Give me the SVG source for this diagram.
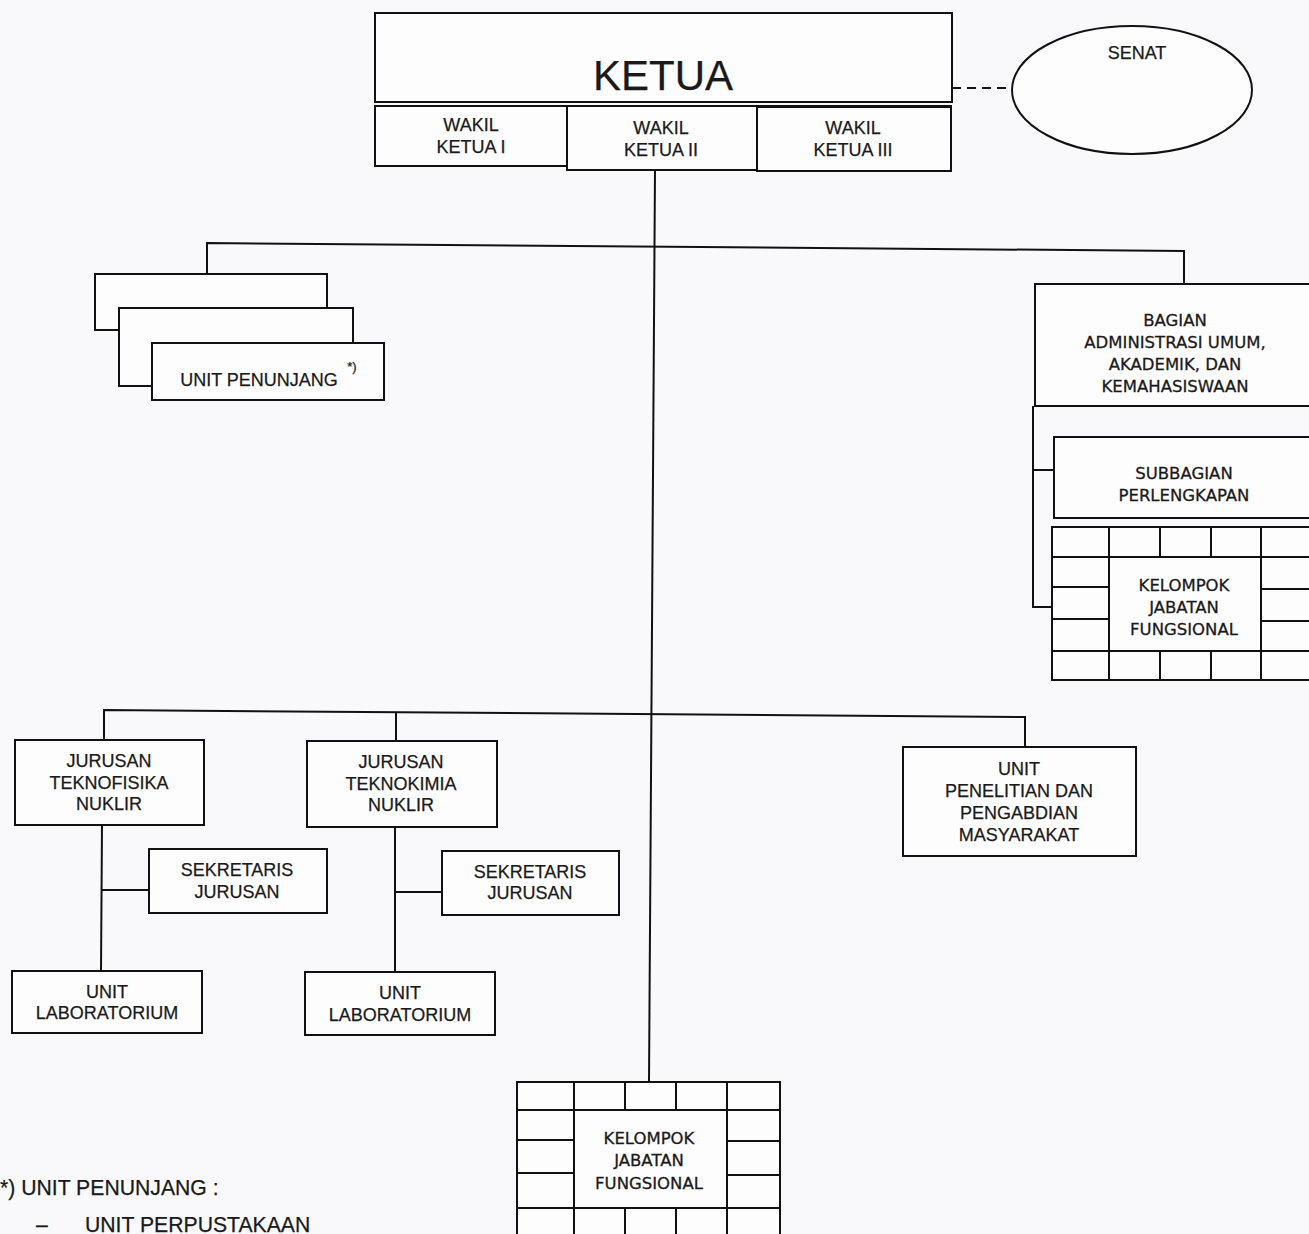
<svg xmlns="http://www.w3.org/2000/svg" width="1309" height="1234" viewBox="0 0 1309 1234">
<style>
.bx{fill:#fdfdfe;stroke:#111;stroke-width:2}
.ln{fill:none;stroke:#111;stroke-width:2}
.t{font-family:"Liberation Sans",Arial,sans-serif;font-size:18px;fill:#1a1a1a;text-anchor:middle;stroke:#1a1a1a;stroke-width:0.25}
.v{font-family:"DejaVu Sans",Verdana,sans-serif;font-size:16.5px;fill:#1a1a1a;text-anchor:middle;stroke:#1a1a1a;stroke-width:0.3}
.lg{font-family:"Liberation Sans",Arial,sans-serif;font-size:21.2px;fill:#1a1a1a;stroke:#1a1a1a;stroke-width:0.25}
</style>
<rect width="1309" height="1234" fill="#f9f9fb"/>

<g id="connectors">
<line class="ln" x1="655" y1="170" x2="649" y2="1082"/>
<polyline class="ln" points="207,274 207,243 1184,251 1184,284"/>
<polyline class="ln" points="104,740 104,710 1025,717 1025,747"/>
<line class="ln" x1="396" y1="712" x2="396" y2="741"/>
<polyline class="ln" points="1033,406 1033,607 1052,607"/>
<line class="ln" x1="1033" y1="470" x2="1054" y2="470"/>
<line class="ln" x1="102" y1="825" x2="101" y2="971"/>
<line class="ln" x1="101" y1="890" x2="149" y2="890"/>
<line class="ln" x1="395" y1="827" x2="395" y2="972"/>
<line class="ln" x1="395" y1="892" x2="442" y2="892"/>
<line class="ln" x1="952" y1="88" x2="1012" y2="88" stroke-dasharray="9,6"/>
</g>

<g id="ketua">
<rect class="bx" x="375" y="13" width="577" height="89"/>
<line class="ln" x1="375" y1="106" x2="952" y2="106"/>
<text x="663" y="90" class="t" style="font-size:42px">KETUA</text>
</g>
<g id="wakil1">
<rect class="bx" x="375" y="106" width="192" height="60"/>
<text class="t" x="471" y="131">WAKIL</text>
<text class="t" x="471" y="153">KETUA I</text>
</g>
<g id="wakil2">
<rect class="bx" x="567" y="106" width="190" height="64"/>
<text class="t" x="661" y="134">WAKIL</text>
<text class="t" x="661" y="156">KETUA II</text>
</g>
<g id="wakil3">
<rect class="bx" x="757" y="107" width="194" height="64"/>
<text class="t" x="853" y="134">WAKIL</text>
<text class="t" x="853" y="156">KETUA III</text>
</g>

<g id="senat">
<ellipse class="bx" cx="1132" cy="90" rx="120" ry="64"/>
<text class="t" x="1137" y="59">SENAT</text>
</g>

<g id="unit-penunjang">
<rect class="bx" x="95" y="274" width="232" height="56"/>
<rect class="bx" x="119" y="308" width="234" height="78"/>
<rect class="bx" x="152" y="343" width="232" height="57"/>
<text class="t" x="259" y="386">UNIT PENUNJANG</text>
<text class="t" x="352" y="371" style="font-size:13px">*)</text>
</g>

<g id="bagian">
<rect class="bx" x="1035" y="284" width="290" height="122"/>
<text class="v" x="1175" y="326">BAGIAN</text>
<text class="v" x="1175" y="348">ADMINISTRASI UMUM,</text>
<text class="v" x="1175" y="370">AKADEMIK, DAN</text>
<text class="v" x="1175" y="392">KEMAHASISWAAN</text>
</g>

<g id="subbagian">
<rect class="bx" x="1054" y="437" width="270" height="81"/>
<text class="v" x="1184" y="479">SUBBAGIAN</text>
<text class="v" x="1184" y="501">PERLENGKAPAN</text>
</g>

<g id="kelompok-kanan">
<rect class="bx" x="1052" y="527" width="270" height="153"/>
<path class="ln" d="M1052 557H1322M1052 651H1322M1052 587H1109M1052 619H1109M1261 589H1322M1261 621H1322M1109 527V680M1261 527V680M1160 527V557M1211 527V557M1160 651V680M1211 651V680"/>
<text class="v" x="1184" y="591">KELOMPOK</text>
<text class="v" x="1184" y="613">JABATAN</text>
<text class="v" x="1184" y="635">FUNGSIONAL</text>
</g>

<g id="jurusan-tf">
<rect class="bx" x="15" y="740" width="189" height="85"/>
<text class="t" x="109" y="767">JURUSAN</text>
<text class="t" x="109" y="789">TEKNOFISIKA</text>
<text class="t" x="109" y="810">NUKLIR</text>
</g>
<g id="sekretaris-tf">
<rect class="bx" x="149" y="849" width="178" height="64"/>
<text class="t" x="237" y="876">SEKRETARIS</text>
<text class="t" x="237" y="898">JURUSAN</text>
</g>
<g id="lab-tf">
<rect class="bx" x="12" y="971" width="190" height="62"/>
<text class="t" x="107" y="998">UNIT</text>
<text class="t" x="107" y="1019">LABORATORIUM</text>
</g>

<g id="jurusan-tk">
<rect class="bx" x="307" y="741" width="190" height="86"/>
<text class="t" x="401" y="768">JURUSAN</text>
<text class="t" x="401" y="790">TEKNOKIMIA</text>
<text class="t" x="401" y="811">NUKLIR</text>
</g>
<g id="sekretaris-tk">
<rect class="bx" x="442" y="851" width="177" height="64"/>
<text class="t" x="530" y="878">SEKRETARIS</text>
<text class="t" x="530" y="899">JURUSAN</text>
</g>
<g id="lab-tk">
<rect class="bx" x="305" y="972" width="190" height="63"/>
<text class="t" x="400" y="999">UNIT</text>
<text class="t" x="400" y="1021">LABORATORIUM</text>
</g>

<g id="unit-penelitian">
<rect class="bx" x="903" y="747" width="233" height="109"/>
<text class="t" x="1019" y="775">UNIT</text>
<text class="t" x="1019" y="797">PENELITIAN DAN</text>
<text class="t" x="1019" y="819">PENGABDIAN</text>
<text class="t" x="1019" y="841">MASYARAKAT</text>
</g>

<g id="kelompok-bawah">
<rect class="bx" x="517" y="1082" width="263" height="160"/>
<path class="ln" d="M517 1110H780M517 1208H780M517 1140H574M517 1173H574M727 1141H780M727 1175H780M574 1082V1242M727 1082V1242M625 1082V1110M676 1082V1110M625 1208V1242M676 1208V1242"/>
<text class="v" x="649" y="1144">KELOMPOK</text>
<text class="v" x="649" y="1166">JABATAN</text>
<text class="v" x="649" y="1189">FUNGSIONAL</text>
</g>

<g id="legend">
<text class="lg" x="0" y="1195">*) UNIT PENUNJANG :</text>
<text class="lg" x="36" y="1232">–</text>
<text class="lg" x="85" y="1232">UNIT PERPUSTAKAAN</text>
</g>
</svg>
